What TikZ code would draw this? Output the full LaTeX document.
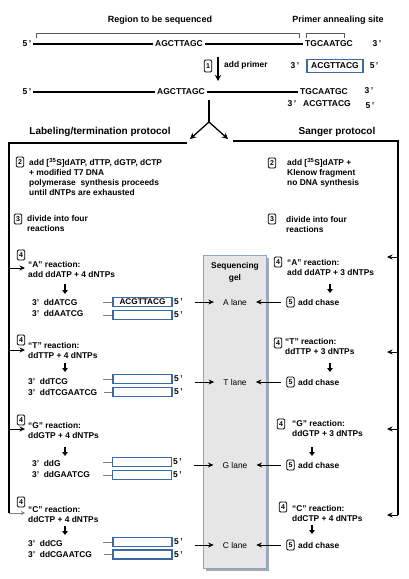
\documentclass[tikz,border=0pt]{standalone}
\usepackage{fontspec}
\setmainfont{Liberation Sans}
\usetikzlibrary{arrows.meta}
\definecolor{seqblue}{HTML}{3A6AA6}
\definecolor{gelfill}{HTML}{E6E6E6}
\definecolor{gelborder}{HTML}{8CA5C4}
\definecolor{shadowgray}{HTML}{A8A8A8}
\begin{document}
\begin{tikzpicture}[x=1pt,y=-1pt,
 txt/.style={font=\bfseries\fontsize{8.4}{10}\selectfont, inner sep=0pt, anchor=north west, align=left},
 lbl/.style={font=\bfseries\fontsize{8.4}{10}\selectfont, inner sep=0pt, anchor=west},
 lane/.style={font=\fontsize{8.4}{10}\selectfont, inner sep=0pt},
 seq/.style={font=\bfseries\fontsize{8.5}{10}\selectfont, inner sep=2pt},
 head/.style={font=\bfseries\fontsize{10}{12}\selectfont, inner sep=0pt},
 ttl/.style={font=\bfseries\fontsize{9}{11}\selectfont, inner sep=0pt},
 stepbox/.style={draw, line width=0.9pt, rounded corners=1.2pt, inner sep=0pt, minimum width=7.5pt, minimum height=10pt, font=\bfseries\fontsize{7}{8}\selectfont},
 seqbox/.style={draw=seqblue, line width=1.1pt, fill=white, minimum width=59pt, minimum height=9pt, inner sep=0pt, font=\bfseries\fontsize{8.2}{9}\selectfont},
 arr/.style={-{Stealth[length=5.5pt,width=5pt]}, line width=0.8pt},
 darr/.style={-{Triangle[length=4pt,width=5.5pt]}, line width=1.3pt},
 frame/.style={line width=1.4pt},
 stub/.style={gray, line width=0.6pt},
 brk/.style={gray!70!black, line width=0.6pt},
]
\useasboundingbox (0,0) rectangle (408,579);

% ---------- top ----------
\node[ttl] (reg) at (160,20) {Region to be sequenced};
\node[ttl] (pas) at (338,20) {Primer annealing site};
\draw[brk] (36,38) -- (36,33) -- (299,33) -- (299,38);
\draw[brk] (306,38) -- (306,33) -- (344,33) -- (344,38);

\node[seq] (a5) at (27,44) {5\,'};
\node[seq] (aS) at (179,44) {AGCTTAGC};
\node[seq] (aT) at (329,44) {TGCAATGC};
\node[seq] (a3) at (377,44) {3\,'};
\draw[line width=1.3pt] (a5.east) -- (aS.west);
\draw[line width=1.3pt] (aS.east) -- (aT.west);

\node[stepbox, minimum height=12pt] (s1) at (208,66) {1};
\coordinate (p1a) at (218,57);
\coordinate (p1b) at (218,81);
\draw[-{Stealth[length=6pt,width=6pt]}, line width=1.4pt] (p1a) -- (p1b);
\node[lbl] (addp) at (224,65) {add primer};
\node[seq] (pr3) at (295,66) {3\,'};
\node[seqbox, minimum width=56pt, minimum height=13pt, font=\bfseries\fontsize{8.5}{10}\selectfont] (prb) at (335,66) {ACGTTACG};
\node[seq] (pr5) at (374,66) {5\,'};

\node[seq] (b5) at (27,92) {5\,'};
\node[seq] (bS) at (181,92) {AGCTTAGC};
\node[seq] (bT) at (324,92) {TGCAATGC};
\node[seq] (b3) at (369,91) {3\,'};
\draw[line width=1.3pt] (b5.east) -- (bS.west);
\draw[line width=1.3pt] (bS.east) -- (bT.west);
\node[seq] (c3) at (292,104) {3\,'};
\node[seq] (cS) at (327,104) {ACGTTACG};
\node[seq] (c5) at (370,106) {5\,'};

% fork
\coordinate (fk0) at (209,100);
\coordinate (fk1) at (209,122);
\coordinate (fkL) at (190,139);
\coordinate (fkR) at (228,139);
\draw[line width=1.3pt] (fk0) -- (fk1);
\draw[-{Stealth[length=6pt,width=6pt]}, line width=1.3pt] (fk1) -- (fkL);
\draw[-{Stealth[length=6pt,width=6pt]}, line width=1.3pt] (fk1) -- (fkR);

\node[head] (hL) at (100,132) {Labeling/termination protocol};
\node[head] (hR) at (337,132) {Sanger protocol};

% frames
\coordinate (lf0) at (187,143);
\coordinate (lf1) at (9,143);
\coordinate (lfA) at (9,268);
\coordinate (lfT) at (9,350);
\coordinate (lfG) at (9,429);
\coordinate (lfC) at (9,513);
\coordinate (rf0) at (233,141);
\coordinate (rf1) at (398,141);
\coordinate (rfA) at (398,257);
\coordinate (rfT) at (398,352);
\coordinate (rfG) at (398,429);
\coordinate (rfC) at (398,515);
\draw[frame] (lf0) -- (lf1) -- (lfC);
\draw[frame] (rf0) -- (rf1) -- (rfC);
\coordinate (laA) at (25,268);
\coordinate (laT) at (25,350);
\coordinate (laG) at (25,429);
\coordinate (laC) at (25,513);
\draw[arr] (lfA) -- (laA);
\draw[arr] (lfT) -- (laT);
\draw[arr] (lfG) -- (laG);
\draw[-{Stealth[length=4pt,width=4pt]}, gray, line width=0.6pt] (lfC) -- (laC);
\coordinate (raA) at (387,257);
\coordinate (raT) at (387,352);
\coordinate (raG) at (387,429);
\coordinate (raC) at (387,515);
\draw[arr] (rfA) -- (raA);
\draw[arr] (rfT) -- (raT);
\draw[arr] (rfG) -- (raG);
\draw[arr] (rfC) -- (raC);

% ---------- left column ----------
\node[stepbox] (l2) at (20,162) {2};
\node[txt] (l2t) at (29,158.5) {add [\textsuperscript{35}S]dATP, dTTP, dGTP, dCTP\\+ modified T7 DNA\\polymerase\ \ synthesis proceeds\\until dNTPs are exhausted};
\node[stepbox] (l3) at (18,219) {3};
\node[txt] (l3t) at (27,215) {divide into four\\reactions};

\node[stepbox] (l4A) at (21,255) {4};
\node[txt] (lAt) at (28,261) {``A'' reaction:\\add ddATP + 4 dNTPs};
\node[stepbox] (l4T) at (21,340) {4};
\node[txt] (lTt) at (28,342) {``T'' reaction:\\ddTTP + 4 dNTPs};
\node[stepbox] (l4G) at (21,420) {4};
\node[txt] (lGt) at (28,422) {``G'' reaction:\\ddGTP + 4 dNTPs};
\node[stepbox] (l4C) at (21,502) {4};
\node[txt] (lCt) at (28,506) {``C'' reaction:\\ddCTP + 4 dNTPs};

\coordinate (ldA0) at (65,284); \coordinate (ldA1) at (65,294);
\coordinate (ldT0) at (65,363); \coordinate (ldT1) at (65,372);
\coordinate (ldG0) at (65,447); \coordinate (ldG1) at (65,456);
\coordinate (ldC0) at (65,526); \coordinate (ldC1) at (65,535);
\draw[darr] (ldA0) -- (ldA1);
\draw[darr] (ldT0) -- (ldT1);
\draw[darr] (ldG0) -- (ldG1);
\draw[darr] (ldC0) -- (ldC1);

% sequence rows
\node[lbl] (rA1) at (32,302.5) {3'\ \ ddATCG};
\node[lbl] (rA2) at (32,313.5) {3'\ \ ddAATCG};
\node[seqbox] (bA1) at (142.5,302) {ACGTTACG};
\node[seqbox] (bA2) at (142.5,315) {};
\node[lbl] (fA1) at (174,302) {5\,'};
\node[lbl] (fA2) at (174,315) {5\,'};
\coordinate (sA1) at (103,302); \coordinate (sA2) at (103,315);
\draw[stub] (sA1) -- (bA1.west);
\draw[stub] (sA2) -- (bA2.west);

\node[lbl] (rT1) at (28,381.5) {3'\ \ ddTCG};
\node[lbl] (rT2) at (28,392) {3'\ \ ddTCGAATCG};
\node[seqbox] (bT1) at (142.5,379) {};
\node[seqbox] (bT2) at (142.5,392) {};
\node[lbl] (fT1) at (174,379) {5\,'};
\node[lbl] (fT2) at (174,392) {5\,'};
\coordinate (sT1) at (103,379); \coordinate (sT2) at (104,392);
\draw[stub] (sT1) -- (bT1.west);
\draw[stub] (sT2) -- (bT2.west);

\node[lbl] (rG1) at (32,463) {3'\ \ ddG};
\node[lbl] (rG2) at (32,474) {3'\ \ ddGAATCG};
\node[seqbox] (bG1) at (142,462) {};
\node[seqbox] (bG2) at (142,475) {};
\node[lbl] (fG1) at (173,462) {5\,'};
\node[lbl] (fG2) at (173,475) {5\,'};
\coordinate (sG1) at (103,462); \coordinate (sG2) at (103,475);
\draw[stub] (sG1) -- (bG1.west);
\draw[stub] (sG2) -- (bG2.west);

\node[lbl] (rC1) at (28,543) {3'\ \ ddCG};
\node[lbl] (rC2) at (28,554) {3'\ \ ddCGAATCG};
\node[seqbox] (bC1) at (142.5,542) {};
\node[seqbox] (bC2) at (142.5,554.5) {};
\node[lbl] (fC1) at (174,542) {5\,'};
\node[lbl] (fC2) at (174,554.5) {5\,'};
\coordinate (sC1) at (103,542); \coordinate (sC2) at (104,554.5);
\draw[stub] (sC1) -- (bC1.west);
\draw[stub] (sC2) -- (bC2.west);

% ---------- gel ----------
\fill[shadowgray] (205.5,257.5) rectangle (268.5,570.5);
\draw[gelborder, fill=gelfill, line width=1pt] (203,255) rectangle (266,568);
\node[font=\bfseries\fontsize{8.4}{12}\selectfont, align=center, inner sep=0pt] (gel) at (235,272) {Sequencing\\gel};
\node[lane] (laneA) at (235,302) {A lane};
\node[lane] (laneT) at (235,382) {T lane};
\node[lane] (laneG) at (235,465) {G lane};
\node[lane] (laneC) at (235,545) {C lane};

\draw[arr] ([xshift=12pt]fA1.east |- laneA) -- ([xshift=-9pt]laneA.west);
\draw[arr] ([xshift=12pt]fT1.east |- laneT) -- ([xshift=-9pt]laneT.west);
\draw[arr] ([xshift=12pt]fG1.east |- laneG) -- ([xshift=-9pt]laneG.west);
\draw[arr] ([xshift=12pt]fC1.east |- laneC) -- ([xshift=-9pt]laneC.west);

% ---------- right column ----------
\node[stepbox] (r2) at (272,163) {2};
\node[txt] (r2t) at (287,158.5) {add [\textsuperscript{35}S]dATP +\\Klenow fragment\\no DNA synthesis};
\node[stepbox] (r3) at (272,219) {3};
\node[txt] (r3t) at (286,216.5) {divide into four\\reactions};

\node[stepbox] (r4A) at (278,262) {4};
\node[txt] (rAt) at (287,259) {``A'' reaction:\\add ddATP + 3 dNTPs};
\node[stepbox] (r4T) at (278,343) {4};
\node[txt] (rTt) at (285,338.5) {``T'' reaction:\\ddTTP + 3 dNTPs};
\node[stepbox] (r4G) at (281,424) {4};
\node[txt] (rGt) at (292,420.5) {``G'' reaction:\\ddGTP + 3 dNTPs};
\node[stepbox] (r4C) at (283,507) {4};
\node[txt] (rCt) at (292,505.5) {``C'' reaction:\\ddCTP + 4 dNTPs};

\coordinate (rdA0) at (330,284); \coordinate (rdA1) at (330,293);
\coordinate (rdT0) at (330,363); \coordinate (rdT1) at (330,372);
\coordinate (rdG0) at (312,447); \coordinate (rdG1) at (312,456);
\coordinate (rdC0) at (312,525); \coordinate (rdC1) at (312,534);
\draw[darr] (rdA0) -- (rdA1);
\draw[darr] (rdT0) -- (rdT1);
\draw[darr] (rdG0) -- (rdG1);
\draw[darr] (rdC0) -- (rdC1);

\node[stepbox] (r5A) at (290.5,302) {5};
\node[lbl] (cA) at (298,302) {add chase};
\node[stepbox] (r5T) at (290.5,382) {5};
\node[lbl] (cT) at (298,382) {add chase};
\node[stepbox] (r5G) at (290.5,465) {5};
\node[lbl] (cG) at (298,465) {add chase};
\node[stepbox] (r5C) at (290.5,545) {5};
\node[lbl] (cC) at (298,545) {add chase};

\draw[arr] ([xshift=-5pt]r5A.west) -- ([xshift=9pt]laneA.east);
\draw[arr] ([xshift=-5pt]r5T.west) -- ([xshift=9pt]laneT.east);
\draw[arr] ([xshift=-5pt]r5G.west) -- ([xshift=9pt]laneG.east);
\draw[arr] ([xshift=-5pt]r5C.west) -- ([xshift=9pt]laneC.east);
\end{tikzpicture}
\end{document}
